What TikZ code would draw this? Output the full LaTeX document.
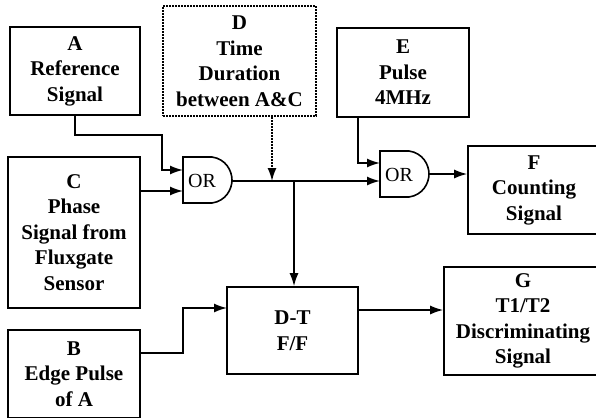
\documentclass[tikz,border=0pt]{standalone}
\usepackage{fontspec}
\setmainfont{Liberation Serif}
\usetikzlibrary{arrows.meta,calc}
\begin{document}
\begin{tikzpicture}[x=1pt,y=-1pt,
  box/.style={draw, line width=1.6pt, align=center, inner sep=0pt,
    font=\bfseries\fontsize{21}{25.5}\selectfont},
  dbox/.style={box, dash pattern=on 1.8pt off 1.2pt},
  arr/.style={line width=1.6pt, -{Latex[length=13pt,width=9pt]}},
  darr/.style={arr, dash pattern=on 1.8pt off 1.2pt},
  gate/.style={draw, line width=1.6pt},
  gatetext/.style={font=\fontsize{20}{20}\selectfont, inner sep=0pt}]
\useasboundingbox (0,0) rectangle (596,417);

% blocks
\node[box, minimum width=130, minimum height=88] (A) at (75,71) {A\\Reference\\Signal};
\node[dbox, minimum width=153, minimum height=110] (D) at (239.5,61) {D\\Time\\Duration\\between A\&C};
\node[box, minimum width=132, minimum height=89] (E) at (403,72.5) {E\\Pulse\\4MHz};
\node[box, minimum width=132, minimum height=151] (C) at (74,232.5) {C\\Phase\\Signal from\\Fluxgate\\Sensor};
\node[box, minimum width=132, minimum height=88] (B) at (74,374) {B\\Edge Pulse\\of A};
\node[box, minimum width=132, minimum height=88] (F) at (534,190) {F\\Counting\\Signal};
\node[box, minimum width=158, minimum height=108] (G) at (523,321) {G\\T1/T2\\Discriminating\\Signal};
\node[box, minimum width=131, minimum height=87] (DT) at (292.5,330.5) {D-T\\F/F};

% OR gates
\begin{scope}[shift={(183,157)}]
  \draw[gate] (0,0) -- (29,0) .. controls (43,2) and (49,14) .. (49,23)
    .. controls (49,32) and (43,44) .. (29,46) -- (0,46) -- cycle;
\end{scope}
\node[gatetext] (or1) at (202,181) {OR};
\begin{scope}[shift={(380,151)}]
  \draw[gate] (0,0) -- (29,0) .. controls (43,2) and (49,14) .. (49,23)
    .. controls (49,32) and (43,44) .. (29,46) -- (0,46) -- cycle;
\end{scope}
\node[gatetext] (or2) at (399,175) {OR};

% connection points
\coordinate (or1a) at (183,170);
\coordinate (or1c) at (183,191);
\coordinate (or1o) at (232,181);
\coordinate (or2e) at (380,163);
\coordinate (or2i) at (380,181);
\coordinate (or2o) at (429,174);
\coordinate (dx) at (272,181);
\coordinate (br) at (294,181);
\coordinate (ex) at (358,163);
\coordinate (bk) at (183,353);
\coordinate (dtin) at (227,308);
\coordinate (dtout) at (358,310);

% connectors
\draw[arr] (A.south) |- (162,135) |- (or1a);
\draw[arr] (C.east |- or1c) -- (or1c);
\draw[arr] (or1o) -- (or2i);
\draw[darr] (D.south -| dx) -- (dx);
\draw[arr] (br) -- (br |- DT.north);
\draw[arr] (E.south -| ex) -- (ex) -- (or2e);
\draw[arr] (or2o) -- (F.west |- or2o);
\draw[arr] (B.east |- bk) -- (bk) |- (dtin);
\draw[arr] (dtout) -- (G.west |- dtout);
\end{tikzpicture}
\end{document}
